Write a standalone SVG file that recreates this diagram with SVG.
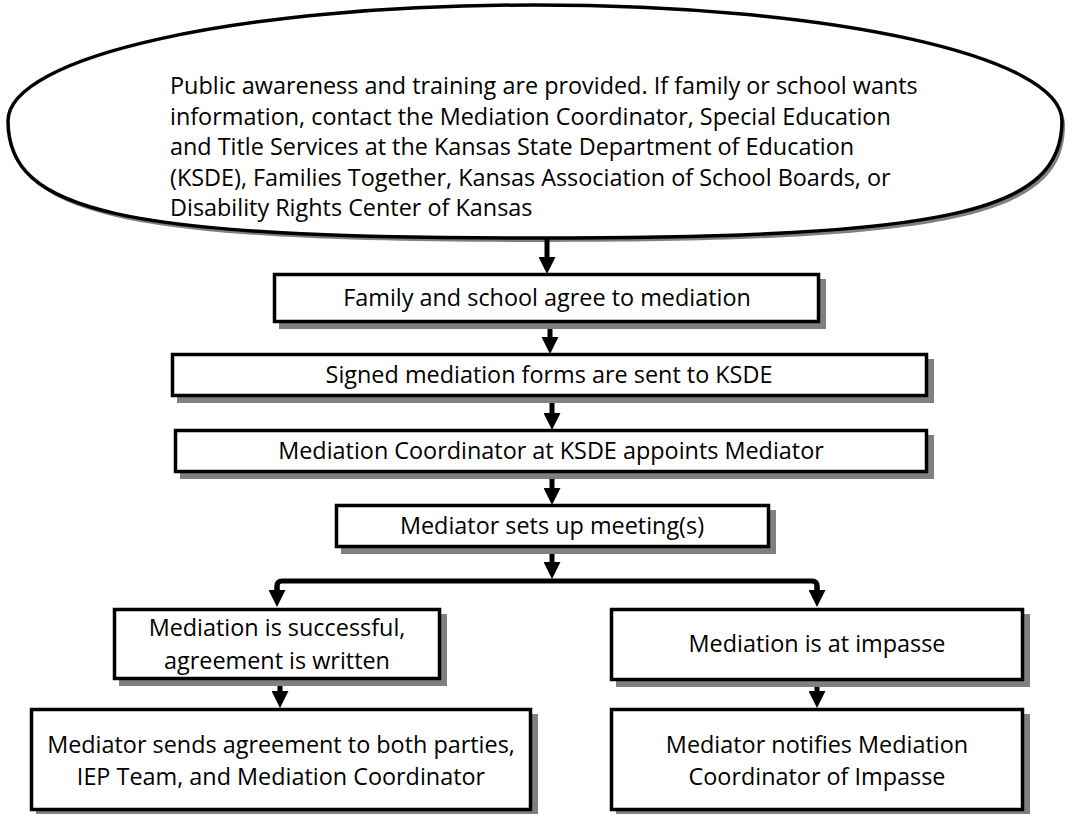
<svg xmlns="http://www.w3.org/2000/svg" width="1080" height="814" viewBox="0 0 1080 814">
<defs>
<style>
.box{fill:#fff;stroke:#000;stroke-width:3.5}
.sh{fill:#808080}
.t{font-family:"Open Sans","Liberation Sans",sans-serif;font-size:23.4px;fill:#000}
.c{text-anchor:middle}
.con{fill:none;stroke:#000;stroke-width:5}
</style>
<marker id="ah" viewBox="0 0 17 17" refX="4" refY="8.5" markerWidth="17" markerHeight="17" markerUnits="userSpaceOnUse" orient="auto">
<path d="M0,0 L17,8.5 L0,17 z" fill="#000"/>
</marker>
<path id="ell" d="M8,121 C8,56 240,5 535,5 C830,5 1062,56 1062,121 C1062,212 950,238 535,238 C120,238 8,212 8,121 Z"/>
</defs>
<rect width="1080" height="814" fill="#fff"/>
<g id="n0">
<use href="#ell" class="sh" transform="translate(3,4)"/>
<use href="#ell" class="box"/>
<text class="t" x="170" y="94">Public awareness and training are provided. If family or school wants</text>
<text class="t" x="170" y="124.5">information, contact the Mediation Coordinator, Special Education</text>
<text class="t" x="170" y="155">and Title Services at the Kansas State Department of Education</text>
<text class="t" x="170" y="185.5">(KSDE), Families Together, Kansas Association of School Boards, or</text>
<text class="t" x="170" y="216">Disability Rights Center of Kansas</text>
</g>
<g id="connectors">
<line class="con" x1="547" y1="237" x2="547" y2="261" marker-end="url(#ah)"/>
<line class="con" x1="550" y1="323" x2="550" y2="341" marker-end="url(#ah)"/>
<line class="con" x1="552" y1="397" x2="552" y2="417" marker-end="url(#ah)"/>
<line class="con" x1="552" y1="473" x2="552" y2="492" marker-end="url(#ah)"/>
<line class="con" x1="552" y1="548" x2="552" y2="566" marker-end="url(#ah)"/>
<path class="con" d="M277,594 V586 Q277,581 282,581 H812 Q817,581 817,586 V594"/>
<line class="con" x1="277" y1="585" x2="277" y2="594" marker-end="url(#ah)"/>
<line class="con" x1="817" y1="585" x2="817" y2="594" marker-end="url(#ah)"/>
<line class="con" x1="280" y1="680" x2="280" y2="695" marker-end="url(#ah)"/>
<line class="con" x1="817" y1="681" x2="817" y2="695" marker-end="url(#ah)"/>
</g>
<g id="n1">
<rect class="sh" x="279" y="279" width="547" height="50"/>
<rect class="box" x="274.5" y="274.5" width="544" height="47"/>
<text class="t c" x="547" y="306">Family and school agree to mediation</text>
</g>
<g id="n2">
<rect class="sh" x="177" y="359" width="757" height="44"/>
<rect class="box" x="172.5" y="354.5" width="754" height="41"/>
<text class="t c" x="549" y="383">Signed mediation forms are sent to KSDE</text>
</g>
<g id="n3">
<rect class="sh" x="180" y="435" width="754" height="44"/>
<rect class="box" x="175.5" y="430.5" width="751" height="41"/>
<text class="t c" x="551" y="459">Mediation Coordinator at KSDE appoints Mediator</text>
</g>
<g id="n4">
<rect class="sh" x="341" y="510" width="435" height="44"/>
<rect class="box" x="336.5" y="505.5" width="432" height="41"/>
<text class="t c" x="552" y="534">Mediator sets up meeting(s)</text>
</g>
<g id="n5">
<rect class="sh" x="119" y="614" width="328" height="72"/>
<rect class="box" x="114.5" y="609.5" width="325" height="69"/>
<text class="t c" x="277" y="636">Mediation is successful,</text>
<text class="t c" x="277" y="669">agreement is written</text>
</g>
<g id="n6">
<rect class="sh" x="616" y="614" width="414" height="73"/>
<rect class="box" x="611.5" y="609.5" width="411" height="70"/>
<text class="t c" x="817" y="652">Mediation is at impasse</text>
</g>
<g id="n7">
<rect class="sh" x="36" y="714" width="502" height="103"/>
<rect class="box" x="31.5" y="709.5" width="499" height="100"/>
<text class="t c" x="281" y="753">Mediator sends agreement to both parties,</text>
<text class="t c" x="281" y="785">IEP Team, and Mediation Coordinator</text>
</g>
<g id="n8">
<rect class="sh" x="616" y="714" width="414" height="103"/>
<rect class="box" x="611.5" y="709.5" width="411" height="100"/>
<text class="t c" x="817" y="753">Mediator notifies Mediation</text>
<text class="t c" x="817" y="785">Coordinator of Impasse</text>
</g>
</svg>
